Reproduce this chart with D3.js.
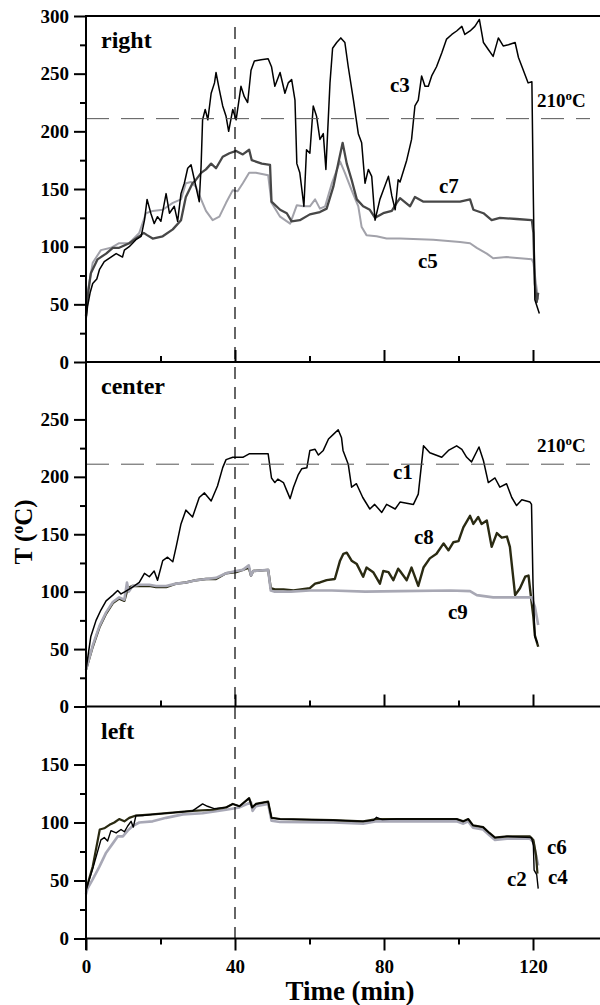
<!DOCTYPE html>
<html>
<head>
<meta charset="utf-8">
<script src="https://cdn.jsdelivr.net/npm/d3@7"></script>
<style>
  body { margin: 0; background: #fff; }
  text { font-family: "Liberation Serif", "Times New Roman", serif; font-weight: bold; }
</style>
</head>
<body>
<script>
// ---- data: [time (min), temperature (oC)] ----
// panel "right"
const c3 = [[0,36],[0.4,48],[1.1,60],[1.8,68],[2.9,72],[3.6,80],[4.9,87],[6.7,91],[8.1,94],[9.8,91],[10.3,97],[11.6,100],[13.4,106],[14.8,109],[15.7,123],[16.4,141],[17.4,129],[18.3,120],[19.2,126],[20.1,122],[21.5,146],[22.4,129],[23.7,135],[24.6,122],[25.5,146],[26.4,155],[27.3,168],[28.2,171],[29.1,158],[30.4,139],[30.9,170],[31.3,210],[32.0,219],[32.7,210],[33.6,233],[34.5,242],[34.9,251],[35.8,236],[36.7,222],[37.6,213],[38.3,200],[39.4,219],[40.3,210],[41.6,239],[42.5,230],[43.4,225],[44.3,253],[45.2,261],[47,262],[48.9,263],[49.8,256],[50.7,239],[52.1,251],[53.4,233],[54.3,242],[55.2,245],[56.1,227],[56.6,172],[57.4,164],[58.5,135],[59.2,184],[60.1,181],[61.0,222],[61.9,213],[62.8,193],[63.7,198],[64.4,167],[65.5,242],[66.2,272],[67.3,277],[68.4,281],[69.5,277],[70.4,256],[71.8,227],[73.1,198],[74.0,190],[74.9,155],[75.8,167],[76.7,161],[77.6,123],[78.9,141],[79.8,149],[81.2,161],[82.1,144],[83.0,132],[83.8,158],[84.3,156],[86.1,175],[87.4,193],[88.3,222],[89.2,227],[90.1,248],[91.0,239],[91.9,239],[92.8,248],[94.1,256],[95.5,268],[96.8,280],[98.2,284],[99.5,287],[100.9,291],[101.7,284],[103.1,287],[104.4,291],[105.6,297],[106.7,277],[108.0,271],[109.3,265],[110.7,281],[112.0,274],[113.4,275],[115.2,277],[116.1,264],[117.4,253],[118.7,242],[119.7,243],[120.1,141],[120.5,54],[121.7,42]];
const c7 = [[0,40],[0.5,58],[1.3,77],[3.1,89],[5.4,94],[7.2,99],[8.9,99],[11.6,103],[14.3,109],[15.5,112],[16.4,110],[17.9,107],[20.6,109],[23.3,115],[25.5,123],[26.8,143],[28.6,155],[29.3,157],[30.9,164],[32.2,167],[33.6,172],[34.9,168],[36.7,178],[38.5,181],[40.3,183],[42.1,180],[43.8,184],[44.5,175],[47.2,172],[49.4,171],[49.8,139],[52.1,132],[53.9,129],[55.2,122],[57.4,123],[60.1,128],[62.8,130],[64.6,133],[66.4,152],[67.7,172],[68.9,190],[70.0,172],[71.3,158],[72.7,141],[74.4,135],[76.2,132],[77.6,125],[79.8,129],[82.1,131],[83.4,138],[84.3,142],[87.0,135],[88.3,143],[90.6,139],[94.6,139],[100.4,139],[103.1,141],[104.0,132],[106.7,129],[108.9,123],[111.1,125],[115.6,124],[119.7,123],[120.1,112],[120.5,68],[121.0,52],[121.4,60]];
const c5 = [[0,45],[0.4,60],[1.8,86],[4.0,97],[6.7,99],[8.9,103],[11.6,103],[14.3,112],[16.1,129],[17.9,131],[20.6,132],[23.3,138],[25.5,141],[26.8,155],[28.2,156],[29.5,152],[30.9,141],[32.2,131],[34.0,123],[35.8,126],[37.6,138],[39.4,149],[40.7,148],[42.1,155],[43.8,164],[45.6,164],[48.9,162],[49.8,138],[52.1,126],[54.8,120],[56.6,136],[58.3,135],[60.1,135],[61.5,141],[62.8,133],[64.2,135],[66.0,155],[68.2,174],[69.5,164],[71.3,149],[73.1,135],[74.0,117],[75.3,110],[78.0,109],[80.7,107],[84.3,107],[93.2,106],[100.4,104],[103.1,103],[104.9,99],[107.6,94],[109.3,90],[112.9,91],[116.5,90],[119.7,89],[120.1,86],[120.8,68],[121.4,54]];

// panel "center"
const c1 = [[0,32],[1.3,61],[2.7,75],[4.0,84],[5.4,92],[7.2,97],[8.5,101],[9.4,98],[10.5,100],[12.5,104],[14.3,108],[15.7,116],[17.0,113],[18.3,118],[19.2,110],[20.6,127],[21.9,130],[23.3,126],[24.2,139],[25.5,159],[26.8,171],[28.6,165],[30.4,182],[31.8,186],[33.6,179],[35.3,192],[36.7,208],[37.6,215],[39.4,217],[42.1,217],[43.8,220],[44.8,220],[48.9,220],[49.8,199],[50.7,195],[51.5,198],[53.0,195],[53.9,188],[54.8,181],[55.7,191],[57.0,202],[57.9,207],[59.3,208],[60.1,223],[61.5,224],[62.4,219],[63.7,223],[65.1,233],[66.4,237],[67.7,241],[68.6,234],[69.0,223],[70.4,211],[71.3,191],[72.6,194],[74.3,182],[76.2,172],[77.5,176],[79.4,169],[80.7,176],[83.0,172],[84.3,178],[87.9,176],[89.2,185],[90.6,227],[92.3,221],[95.5,217],[97.3,223],[99.5,227],[100.9,224],[102.2,217],[103.5,213],[105.5,226],[106.7,214],[108.0,195],[109.8,199],[111.1,191],[112.9,194],[114.3,182],[115.6,175],[117.0,180],[119.2,178],[119.6,176],[120.0,107],[120.5,61],[121.2,55]];
const c8 = [[0,32],[1.8,52],[3.6,69],[5.4,81],[7.2,90],[8.9,94],[10.3,92],[11.2,103],[12.5,105],[14.3,105],[17.0,105],[18.8,104],[21.5,104],[24.2,107],[26.8,108],[29.5,110],[32.2,111],[34.9,111],[37.6,116],[40.3,117],[42.1,119],[43.7,121],[44.3,114],[44.9,118],[48.9,119],[49.6,103],[50.7,102],[53.0,102],[55.7,101],[60.1,103],[61.5,107],[62.8,108],[64.6,110],[66.8,111],[68.2,127],[69.1,133],[70.0,134],[71.3,127],[72.7,124],[74.4,113],[75.3,121],[77.1,117],[78.9,107],[79.8,118],[81.2,117],[82.5,110],[83.8,120],[84.3,118],[86.1,110],[87.4,121],[89.2,105],[90.6,121],[92.3,129],[94.1,133],[96.0,142],[97.3,136],[98.6,143],[100.0,144],[101.3,156],[103.1,166],[104.0,159],[105.3,165],[106.2,159],[107.6,162],[108.9,139],[110.3,151],[111.6,147],[113.0,148],[113.8,139],[115.2,97],[116.5,103],[117.9,113],[118.8,114],[119.4,97],[120.1,78],[120.5,62],[121.4,52]];
const c9 = [[0,32],[1.8,53],[3.6,70],[5.4,82],[7.2,91],[8.9,95],[10.3,93],[11.0,108],[11.5,100],[12.5,105],[14.3,106],[17.0,106],[18.8,105],[21.5,105],[24.2,107],[26.8,108],[29.5,110],[32.2,111],[34.9,112],[37.6,116],[40.3,118],[42.1,119],[43.7,123],[44.3,114],[44.9,118],[48.9,119],[49.6,101],[50.7,100],[55,100],[60,101],[66,101],[75,100],[84.3,100.5],[97.8,101],[103.1,100.5],[104.9,97],[109.3,95],[115.6,95],[119.6,95],[120.5,87],[121.4,71]];

// panel "left"
const c2 = [[0,42],[1.8,60],[4.0,85],[4.9,87],[5.8,84],[6.7,93],[8.1,91],[9.4,94],[10.3,92],[11.2,97],[12.1,101],[12.7,96],[13.4,106],[15.2,106],[17.9,107],[23.3,108.5],[28.6,110],[31.3,116],[32.6,114],[34.4,112],[37.6,113],[39.4,116],[41.2,114],[43.8,121],[44.6,113],[45.6,116],[48.9,118],[49.8,104],[52.1,103],[66.4,102],[74.4,101],[77.2,102],[78.0,104.5],[79.5,102.5],[83.4,103],[99.5,103],[101.3,101],[102.6,103],[103.9,97.5],[106.6,96],[108.3,91],[109.8,87],[113,88],[119.6,87],[120.1,80],[120.3,59],[121,55],[121.4,43]];
const c6 = [[0,42],[1.8,62],[3.7,94],[4.9,95],[6.3,98],[7.6,100],[8.9,103],[10.3,101],[11.6,104],[13.4,106],[17.9,107],[23.3,108.5],[28.6,110],[34.0,111],[37.6,113],[39.4,116],[41.2,114],[43.8,121],[44.6,113],[45.6,116],[48.9,118],[49.8,104],[52.1,103],[66.4,102],[74.4,101],[78.0,103],[83.4,103],[99.5,103],[101.3,101],[102.6,103],[103.9,97.5],[106.6,96],[108.3,91],[109.8,87],[113,88],[119.2,88],[120.1,85],[120.8,72],[121.2,56]];
const c4 = [[0,38],[0.4,43],[1.8,51],[3.6,62],[5.4,74],[7.2,82],[8.5,88],[9.9,88],[11.2,93],[12.5,97],[14.3,100],[17.9,101],[21.5,104],[26,107],[31.3,108],[37.6,111],[41.2,113],[44.3,117.5],[44.7,110],[45.6,114],[48.9,116],[49.8,101.5],[52.1,100.5],[66.4,100],[74.4,99],[78.0,101],[83.4,101],[99.5,101],[101.3,99],[102.6,101],[103.9,95.5],[106.6,94],[108.3,89],[109.8,85],[113,86],[119.2,86],[120.1,83],[120.8,72],[121.4,63]];

// ticks
const xMajor = [0, 40, 80, 120];
const xMinor = [20, 60, 100];
const rightMajor = [0, 50, 100, 150, 200, 250, 300];
const rightMinor = [25, 75, 125, 175, 225, 275];
const centerMajor = [0, 50, 100, 150, 200, 250];
const centerMinor = [25, 75, 125, 175, 225];
const leftMajor = [0, 50, 100, 150];
const leftMinor = [25, 75, 125];

const limitT = 211;   // 210 oC reference line
const markTime = 40;  // vertical dashed line

// ---- layout ----
const svg = d3.select("body").append("svg")
    .attr("width", 600)
    .attr("height", 1005);

const x = d3.scaleLinear().domain([0, 140]).range([86, 607.5]);

const panels = [
    { name: "right", y: d3.scaleLinear().domain([0, 300]).range([362, 16]), major: rightMajor, minor: rightMinor,
      series: [{ d: c5, color: "#a2a2aa", w: 2 }, { d: c7, color: "#474747", w: 2.3 }, { d: c3, color: "#000", w: 1.5 }],
      limit: true,
      labels: [{ t: "c3", x: 390, y: 92 }, { t: "c7", x: 439, y: 193 }, { t: "c5", x: 418, y: 268 }] },
    { name: "center", y: d3.scaleLinear().domain([0, 300]).range([706.5, 362]), major: centerMajor, minor: centerMinor,
      series: [{ d: c8, color: "#2a2a12", w: 2.4 }, { d: c9, color: "#a8a8b4", w: 2.6 }, { d: c1, color: "#000", w: 1.5 }],
      limit: true,
      labels: [{ t: "c1", x: 393, y: 479 }, { t: "c8", x: 414, y: 544 }, { t: "c9", x: 448, y: 619 }] },
    { name: "left", y: d3.scaleLinear().domain([0, 200]).range([938.5, 706.5]), major: leftMajor, minor: leftMinor,
      series: [{ d: c4, color: "#a8a8b6", w: 2.6 }, { d: c6, color: "#2a2a12", w: 2.2 }, { d: c2, color: "#000", w: 1.4 }],
      limit: false,
      labels: [{ t: "c6", x: 547, y: 854 }, { t: "c4", x: 548, y: 884 }, { t: "c2", x: 507, y: 886 }] }
];

function styleAxis(g) {
    g.select(".domain").remove();
    g.selectAll(".tick line").attr("stroke", "#000").attr("stroke-width", 2);
    g.selectAll(".tick text").attr("fill", "#000").style("font-size", "19px");
}

panels.forEach((p, i) => {
    const line = d3.line().x(d => x(d[0])).y(d => p.y(d[1]));

    // curves
    p.series.forEach(s => {
        svg.append("path")
            .datum(s.d)
            .attr("d", line)
            .attr("fill", "none")
            .attr("stroke", s.color)
            .attr("stroke-width", s.w)
            .attr("stroke-linejoin", "round");
    });

    // 210 oC line
    if (p.limit) {
        svg.append("line")
            .attr("x1", x(0)).attr("x2", 590)
            .attr("y1", p.y(limitT)).attr("y2", p.y(limitT))
            .attr("stroke", "#555").attr("stroke-width", 1)
            .attr("stroke-dasharray", "23,12");
        const lt = svg.append("text")
            .attr("x", 537).attr("y", p.y(limitT) - 12)
            .style("font-size", "19px");
        lt.append("tspan").text("210");
        lt.append("tspan").attr("dy", -7).style("font-size", "13px").text("o");
        lt.append("tspan").attr("dy", 7).text("C");
    }

    // y axis
    svg.append("g").attr("transform", `translate(${x(0)},0)`)
        .call(d3.axisLeft(p.y).tickValues(p.major).tickSize(12).tickPadding(5).tickFormat(d3.format("d")))
        .call(styleAxis);
    svg.append("g").attr("transform", `translate(${x(0)},0)`)
        .call(d3.axisLeft(p.y).tickValues(p.minor).tickSize(6).tickFormat(""))
        .call(styleAxis);

    // x ticks on panel bottom
    const yb = p.y(0);
    if (i < 2) {
        svg.append("g").attr("transform", `translate(0,${yb})`)
            .call(d3.axisTop(x).tickValues(xMajor.slice(1)).tickSize(12).tickFormat(""))
            .call(styleAxis);
        svg.append("g").attr("transform", `translate(0,${yb})`)
            .call(d3.axisTop(x).tickValues(xMinor).tickSize(6).tickFormat(""))
            .call(styleAxis);
    } else {
        svg.append("g").attr("transform", `translate(0,${yb})`)
            .call(d3.axisBottom(x).tickValues(xMajor).tickSize(12).tickPadding(9))
            .call(styleAxis);
        svg.append("g").attr("transform", `translate(0,${yb})`)
            .call(d3.axisBottom(x).tickValues(xMinor).tickSize(6).tickFormat(""))
            .call(styleAxis);
    }

    // horizontal frame line
    svg.append("line")
        .attr("x1", x(0)).attr("x2", 600)
        .attr("y1", yb).attr("y2", yb)
        .attr("stroke", "#000").attr("stroke-width", 2);

    // panel name
    svg.append("text")
        .attr("x", 101).attr("y", p.y.range()[1] + 32)
        .style("font-size", "24px")
        .text(p.name);

    // curve labels
    p.labels.forEach(l => {
        svg.append("text").attr("x", l.x).attr("y", l.y)
            .style("font-size", "21px").text(l.t);
    });
});

// top frame line
svg.append("line")
    .attr("x1", x(0)).attr("x2", 600)
    .attr("y1", 16).attr("y2", 16)
    .attr("stroke", "#000").attr("stroke-width", 2);

// left axis line
svg.append("line")
    .attr("x1", x(0)).attr("x2", x(0))
    .attr("y1", 15).attr("y2", 950)
    .attr("stroke", "#000").attr("stroke-width", 2);

// vertical dashed line at 40 min
svg.append("line")
    .attr("x1", x(markTime)).attr("x2", x(markTime))
    .attr("y1", 27).attr("y2", 938)
    .attr("stroke", "#000").attr("stroke-width", 1.2)
    .attr("stroke-dasharray", "12,8");

// axis titles
svg.append("text")
    .attr("x", 350).attr("y", 1000)
    .attr("text-anchor", "middle")
    .style("font-size", "27px")
    .text("Time (min)");

const yt = svg.append("text")
    .attr("transform", "translate(32,532) rotate(-90)")
    .attr("text-anchor", "middle")
    .style("font-size", "25px");
yt.append("tspan").text("T (");
yt.append("tspan").attr("dy", -9).style("font-size", "16px").text("o");
yt.append("tspan").attr("dy", 9).text("C)");
</script>
</body>
</html>
